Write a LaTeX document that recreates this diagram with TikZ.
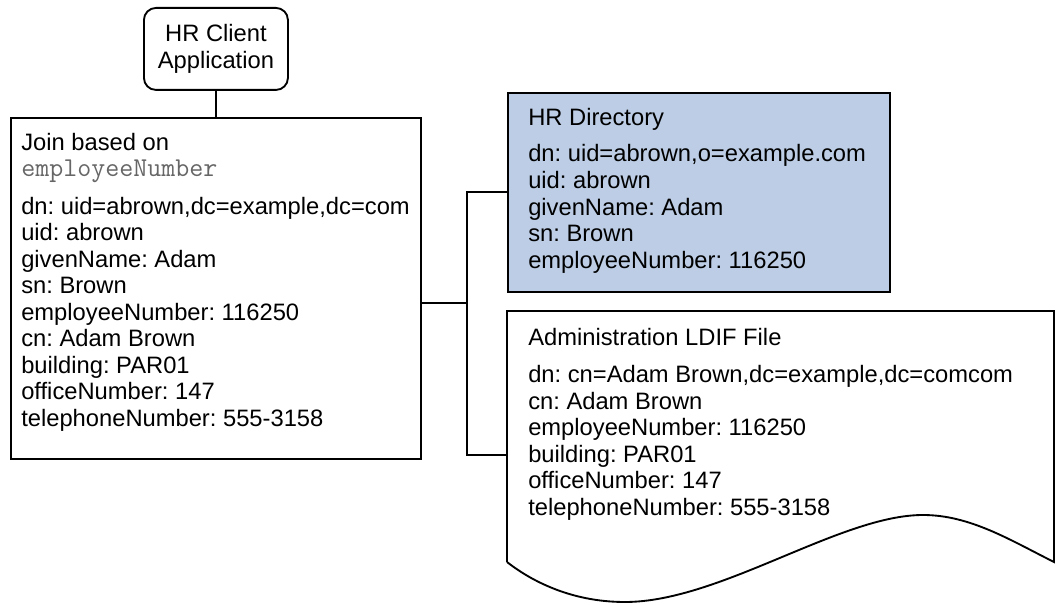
\documentclass[tikz,border=0pt]{standalone}
\usepackage{fontspec}
\setmainfont{Liberation Sans}
\usetikzlibrary{positioning}
\definecolor{dirblue}{HTML}{BCCDE5}
\frenchspacing

\begin{document}
\begin{tikzpicture}[
    x=0.75pt, y=-0.75pt,
    every node/.style={font=\fontsize{17.8}{19.9}\selectfont},
    box/.style={rectangle, draw, line width=1.4pt, anchor=north west, inner sep=0pt},
    entry/.style={align=left, inner sep=0pt},
    link/.style={line width=1.4pt}
]
\useasboundingbox (0,0) rectangle (1057,605);

% client and joined entry
\node[box, rounded corners=9pt, minimum width=108pt, minimum height=61.5pt, align=center] (client) at (143,7) {HR Client\\Application};
\node[box, minimum width=307.5pt, minimum height=255.75pt] (lbox) at (10,117) {};
\node[entry, below right=12pt and 8.25pt of lbox.north west] (ljoin) {Join based on\\{\fontsize{20.4}{19.9}\selectfont\ttfamily\color{black!60}employeeNumber}\\[8pt]
dn: uid=abrown,dc=example,dc=com\\uid: abrown\\givenName: Adam\\sn: Brown\\employeeNumber: 116250\\cn: Adam Brown\\building: PAR01\\officeNumber: 147\\telephoneNumber: 555-3158};

% source directory
\node[box, fill=dirblue, minimum width=286.5pt, minimum height=149.25pt] (hrdir) at (507,92) {};
\node[entry, below right=12pt and 15.75pt of hrdir.north west] (hrtext) {HR Directory\\[7.5pt]
dn: uid=abrown,o=example.com\\uid: abrown\\givenName: Adam\\sn: Brown\\employeeNumber: 116250};

% LDIF file (document shape)
\coordinate (ldif) at (507,311);
\draw[line width=1.4pt] (507,562) -- (ldif) -- (1054,311) -- (1054,562)
    .. controls (1010,540) and (970,515) .. (923,515)
    .. controls (840,515) and (720,602) .. (625,602)
    .. controls (570,602) and (530,580) .. (507,562);
\node[entry, below right=12.75pt and 15.75pt of ldif] (ldiftext) {Administration LDIF File\\[8pt]
dn: cn=Adam Brown,dc=example,dc=comcom\\cn: Adam Brown\\employeeNumber: 116250\\building: PAR01\\officeNumber: 147\\telephoneNumber: 555-3158};

% connectors
\coordinate (bus) at (467,303);
\coordinate (ldifin) at (507,455);
\draw[link] (client) -- (lbox);
\draw[link] (bus -| lbox.east) -- (bus);
\draw[link] (hrdir.west) -| (bus) |- (ldifin);
\end{tikzpicture}
\end{document}
